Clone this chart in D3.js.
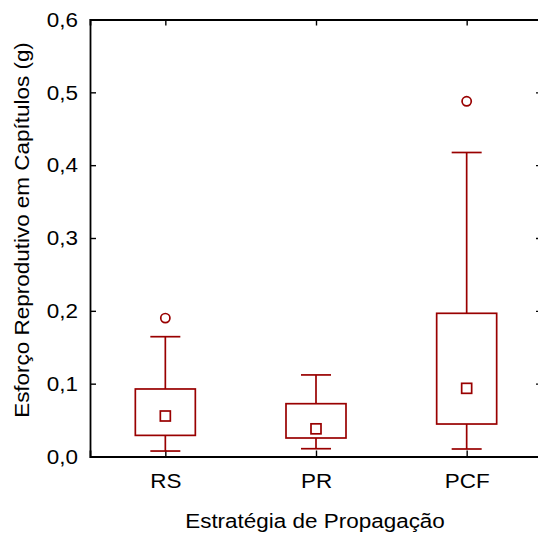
<!DOCTYPE html>
<html>
<head>
<meta charset="utf-8">
<script src="https://cdn.jsdelivr.net/npm/d3@7"></script>
<style>
  body { margin: 0; background: #fff; }
  text { font-family: "Liberation Sans", Arial, sans-serif; fill: #000; }
</style>
</head>
<body>
<script>
// data
const categories = ["RS", "PR", "PCF"];
const whiskerLow = [0.0075, 0.0107, 0.0103];
const boxLow = [0.029, 0.0254, 0.0446];
const means = [0.0556, 0.038, 0.0936];
const boxHigh = [0.0927, 0.0725, 0.1966];
const whiskerHigh = [0.1645, 0.112, 0.4174];
const outliers = [[0.19], [], [0.4877]];
const yTicks = [0, 0.1, 0.2, 0.3, 0.4, 0.5, 0.6];

const W = 538, H = 536;
const margin = { top: 19.5, right: -4, bottom: 79.5, left: 90 };
const red = "#990000";
const fs = 21;        // font size
const stretch = 1.07; // text in the picture is a bit wider than plain Arial

const svg = d3.select("body").append("svg")
  .attr("width", W).attr("height", H);

const x = d3.scalePoint()
  .domain(categories)
  .range([margin.left, W - margin.right])
  .padding(0.5);
const y = d3.scaleLinear()
  .domain([0, 0.6])
  .range([H - margin.bottom, margin.top]);

const fmt = d => d3.format(".1f")(d).replace(".", ",");

// widen a text element around its own anchor point
function widen(sel) {
  sel.each(function () {
    const t = d3.select(this);
    const tx = +t.attr("x") || 0, ty = +t.attr("y") || 0;
    t.attr("x", 0).attr("y", 0)
      .attr("transform", `translate(${tx},${ty}) scale(${stretch},1)`);
  });
}

// axes with inward ticks
const gL = svg.append("g").attr("transform", `translate(${margin.left},0)`)
  .call(d3.axisLeft(y).tickValues(yTicks).tickFormat(fmt).tickSize(-6).tickPadding(12));
const gB = svg.append("g").attr("transform", `translate(0,${H - margin.bottom})`)
  .call(d3.axisBottom(x).tickSize(-6).tickPadding(16.5));
const gR = svg.append("g").attr("transform", `translate(${W - margin.right},0)`)
  .call(d3.axisRight(y).tickValues(yTicks).tickFormat("").tickSize(-6));
const gT = svg.append("g").attr("transform", `translate(0,${margin.top})`)
  .call(d3.axisTop(x).tickFormat("").tickSize(-6));

[gL, gB, gR, gT].forEach(g => {
  g.attr("font-size", fs).attr("font-family", "'Liberation Sans', Arial, sans-serif");
  g.select(".domain").attr("stroke", "#000").attr("stroke-width", 1.8);
  g.selectAll(".tick line").attr("stroke", "#000").attr("stroke-width", 1.4);
  g.selectAll(".tick text").attr("fill", "#000").call(widen);
});

// boxes
const data = categories.map((c, i) => ({
  c, lo: whiskerLow[i], q1: boxLow[i], m: means[i], q3: boxHigh[i], hi: whiskerHigh[i], out: outliers[i]
}));

const boxHalf = 30, capHalf = 15, meanSize = 10;
const g = svg.append("g").attr("fill", "none").attr("stroke", red).attr("stroke-width", 1.7);

const b = g.selectAll("g.box").data(data).join("g").attr("class", "box");
b.append("line")
  .attr("x1", d => x(d.c)).attr("x2", d => x(d.c))
  .attr("y1", d => y(d.q3)).attr("y2", d => y(d.hi));
b.append("line")
  .attr("x1", d => x(d.c)).attr("x2", d => x(d.c))
  .attr("y1", d => y(d.q1)).attr("y2", d => y(d.lo));
b.append("line")
  .attr("x1", d => x(d.c) - capHalf).attr("x2", d => x(d.c) + capHalf)
  .attr("y1", d => y(d.hi)).attr("y2", d => y(d.hi));
b.append("line")
  .attr("x1", d => x(d.c) - capHalf).attr("x2", d => x(d.c) + capHalf)
  .attr("y1", d => y(d.lo)).attr("y2", d => y(d.lo));
b.append("rect")
  .attr("x", d => x(d.c) - boxHalf).attr("width", boxHalf * 2)
  .attr("y", d => y(d.q3)).attr("height", d => y(d.q1) - y(d.q3));
b.append("rect")
  .attr("x", d => x(d.c) - meanSize / 2).attr("width", meanSize)
  .attr("y", d => y(d.m) - meanSize / 2).attr("height", meanSize);
b.selectAll("circle").data(d => d.out.map(v => ({ c: d.c, v }))).join("circle")
  .attr("cx", d => x(d.c)).attr("cy", d => y(d.v)).attr("r", 4.6);

// titles
svg.append("text")
  .attr("transform", `translate(315,528) scale(${stretch},1)`)
  .attr("text-anchor", "middle").attr("font-size", fs)
  .text("Estratégia de Propagação");
svg.append("text")
  .attr("transform", `translate(28.5,230) rotate(-90) scale(${stretch},1)`)
  .attr("text-anchor", "middle").attr("font-size", fs)
  .text("Esforço Reprodutivo em Capítulos (g)");
</script>
</body>
</html>
